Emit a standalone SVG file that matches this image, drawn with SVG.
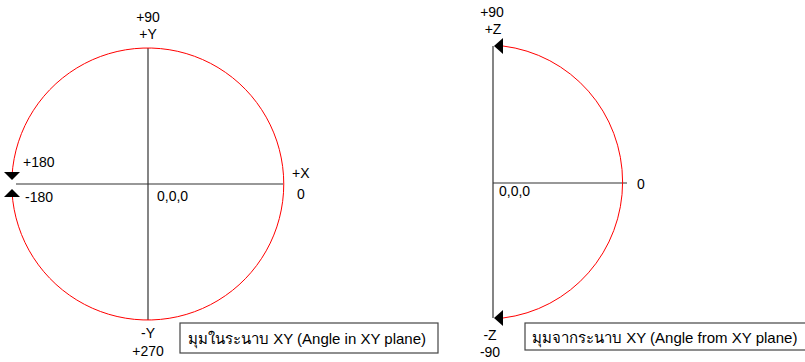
<svg xmlns="http://www.w3.org/2000/svg" width="805" height="362" viewBox="0 0 805 362">
<style>
text{font-family:"Liberation Sans","Noto Sans",sans-serif;font-size:14px;fill:#000}
.c{text-anchor:middle}
.lg{font-size:15px}
.axis{stroke:#333;stroke-width:1.2;fill:none}
.arc{stroke:#f00;stroke-width:1;fill:none}
.box{fill:#fff;stroke:#444;stroke-width:1.2}
.ah{fill:#000}
</style>
<rect width="805" height="362" fill="#fff"/>
<g id="connectors">
<line class="axis" x1="148" y1="48" x2="148" y2="320"/>
<line class="axis" x1="16" y1="184" x2="283" y2="184"/>
<line class="axis" x1="493" y1="46" x2="493" y2="318"/>
<line class="axis" x1="493" y1="183" x2="627" y2="183"/>
</g>
<g id="circle-xy">
<path class="arc" d="M12,176 A136,136 0 1 1 12,192"/>
<polygon class="ah" points="4,172 20,172 12,180"/>
<polygon class="ah" points="4,197 20,197 12,189"/>
</g>
<g id="arc-z">
<path class="arc" d="M503,46 A136,137 0 0 1 503,318"/>
<polygon class="ah" points="494,46 503,38 503,54"/>
<polygon class="ah" points="494,318 503,310 503,326"/>
</g>
<g id="labels-xy">
<text class="c" x="148" y="22">+90</text>
<text class="c" x="148" y="39">+Y</text>
<text x="292" y="178">+X</text>
<text x="297" y="199">0</text>
<text x="23" y="167">+180</text>
<text x="25" y="202">-180</text>
<text x="157" y="201">0,0,0</text>
<text class="c" x="148" y="338">-Y</text>
<text class="c" x="148" y="356">+270</text>
</g>
<g id="labels-z">
<text class="c" x="492" y="17">+90</text>
<text class="c" x="493" y="34">+Z</text>
<text x="637" y="189">0</text>
<text x="499" y="196">0,0,0</text>
<text class="c" x="490" y="340">-Z</text>
<text class="c" x="490" y="357">-90</text>
</g>
<g id="legend-xy">
<rect class="box" x="180" y="323" width="258" height="30"/>
<text class="lg" x="188" y="344">มุมในระนาบ XY (Angle in XY plane)</text>
</g>
<g id="legend-z">
<rect class="box" x="525" y="323" width="285" height="27"/>
<text class="lg" x="532" y="343">มุมจากระนาบ XY (Angle from XY plane)</text>
</g>
</svg>
